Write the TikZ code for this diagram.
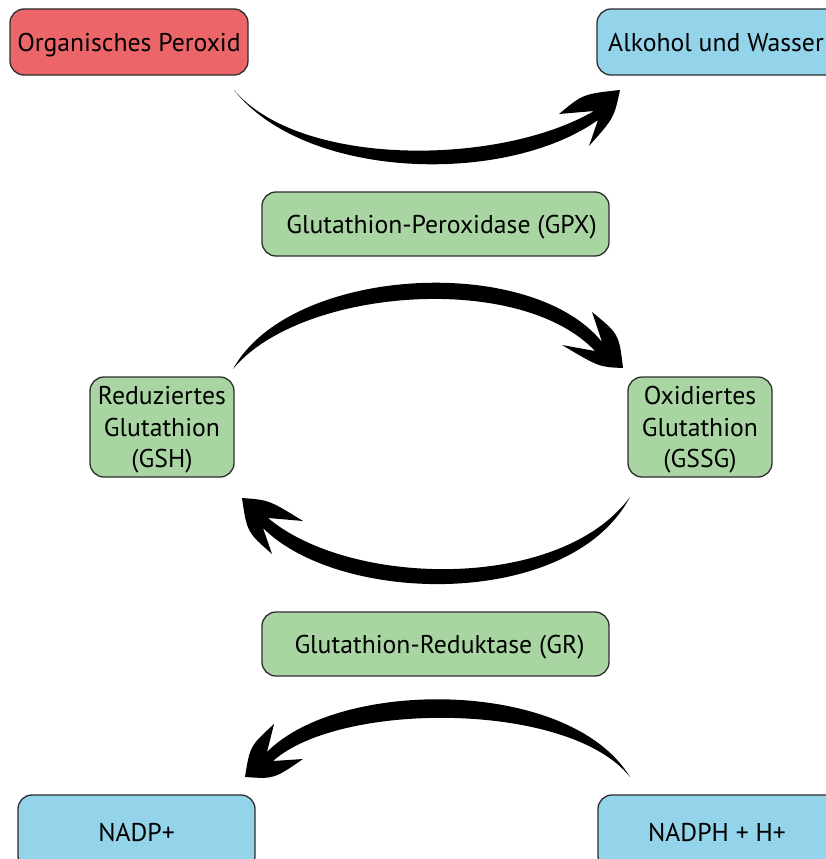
\documentclass[tikz,border=0pt]{standalone}
\usepackage{fontspec}
\setmainfont{PT Sans}
\definecolor{redfill}{RGB}{236,101,105}
\definecolor{bluefill}{RGB}{148,212,234}
\definecolor{greenfill}{RGB}{169,213,163}
\definecolor{edgecol}{RGB}{45,45,45}
\newcommand{\lowtxt}[1]{\raisebox{-3pt}[\height][\depth]{\begin{tabular}{@{}c@{}}#1\end{tabular}}}
\begin{document}
\begin{tikzpicture}[x=1pt,y=-1pt,
  box/.style={draw=edgecol, line width=1.3pt, rounded corners=14pt,
    font=\fontsize{25.7}{31.5}\selectfont, inner sep=0pt, align=center},
  swoosh/.style={fill=black, draw=none}]
\useasboundingbox (0,0) rectangle (826,859);
\clip (0,0) rectangle (826,859);

% boxes
\node[box, fill=redfill, minimum width=238pt, minimum height=66pt] (perox) at (129,42) {\lowtxt{Organisches Peroxid}};
\node[box, fill=bluefill, minimum width=243pt, minimum height=66pt] (alk) at (718.5,42) {\lowtxt{\hspace*{-5pt}Alkohol und Wasser}};
\node[box, fill=greenfill, minimum width=347pt, minimum height=64pt] (gpx) at (435.5,224) {\lowtxt{\hspace*{12pt}Glutathion-Peroxidase (GPX)}};
\node[box, fill=greenfill, minimum width=144pt, minimum height=100pt] (gsh) at (162,427) {\lowtxt{Reduziertes\\Glutathion\\(GSH)}};
\node[box, fill=greenfill, minimum width=144pt, minimum height=100pt] (gssg) at (700,427) {\lowtxt{Oxidiertes\\Glutathion\\(GSSG)}};
\node[box, fill=greenfill, minimum width=347pt, minimum height=64pt] (gr) at (435.5,644) {\lowtxt{\hspace*{8pt}Glutathion-Reduktase (GR)}};
\node[box, fill=bluefill, minimum width=237pt, minimum height=75pt] (nadp) at (136.5,832.5) {\lowtxt{NADP+}};
\node[box, fill=bluefill, minimum width=242pt, minimum height=75pt] (nadph) at (719,832.5) {\lowtxt{\hspace*{-4pt}NADPH + H+}};

% arrow end points
\coordinate (a1s) at (234,90);   \coordinate (a1e) at (620,90);
\coordinate (a2s) at (233,369);  \coordinate (a2e) at (623,368);
\coordinate (a3s) at (630,497);  \coordinate (a3e) at (242,498);
\coordinate (a4s) at (630,777);  \coordinate (a4e) at (245,777);

% swoosh arrows
\fill[swoosh] (a1s) .. controls (300,168) and (500,166) .. (594,111) -- (559,114) .. controls (583,94) .. (a1e) .. controls (614,118) .. (589,146) -- (598,120) .. controls (505,186) and (305,180) .. (a1s) -- cycle;
\fill[swoosh] (a2s) .. controls (290,266) and (530,253) .. (602,342) -- (592,312) .. controls (619,334) .. (a2e) .. controls (599,367) .. (562,345) -- (595,351) .. controls (520,271) and (300,288) .. (a2s) -- cycle;
\fill[swoosh] (a3s) .. controls (560,592) and (350,587) .. (268,518) -- (303,521) .. controls (269,500) .. (a3e) .. controls (247,532) .. (272,554) -- (263,528) .. controls (340,605) and (570,610) .. (a3s) -- cycle;
\fill[swoosh] (a4s) .. controls (570,678) and (340,678) .. (267,752) -- (274,724) .. controls (250,746) .. (a4e) .. controls (274,779) .. (303,759) -- (273,761) .. controls (340,701) and (570,701) .. (a4s) -- cycle;
\end{tikzpicture}
\end{document}
